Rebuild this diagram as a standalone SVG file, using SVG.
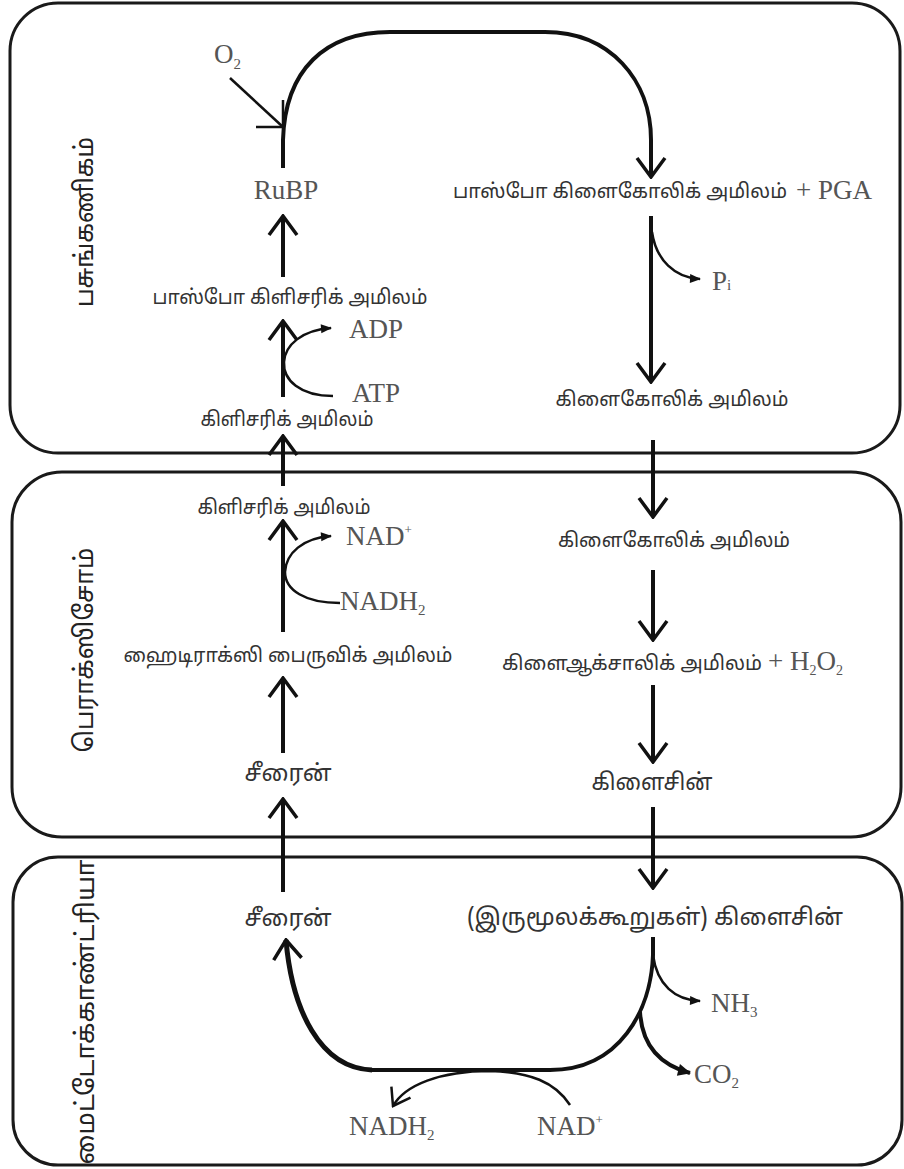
<svg xmlns="http://www.w3.org/2000/svg" width="904" height="1169" viewBox="0 0 904 1169">
  <style>
    .box { fill: none; stroke: #1a1a1a; stroke-width: 3; }
    .flow { fill: none; stroke: #111; stroke-width: 4; }
    .thick { fill: none; stroke: #111; stroke-width: 5; }
    .side { fill: none; stroke: #111; stroke-width: 2.5; }
    .ta { font-family: "Noto Sans Tamil", "Latha", "Noto Sans", sans-serif; font-size: 20px; fill: #333; }
    .ta-lg { font-family: "Noto Sans Tamil", "Latha", "Noto Sans", sans-serif; font-size: 23px; fill: #333; }
    .chem { font-family: "Liberation Serif", "Times New Roman", serif; font-size: 27px; fill: #555; }
    .comp { font-family: "Noto Sans Tamil", "Latha", "Noto Sans", sans-serif; font-size: 26px; fill: #222; }
  </style>
  <defs>
    <marker id="vee" viewBox="-22 -16 24 32" refX="0" refY="0" markerWidth="24" markerHeight="32" markerUnits="userSpaceOnUse" orient="auto">
      <path d="M-19,-14 L0,0 L-19,14" fill="none" stroke="#111" stroke-width="3.5"/>
    </marker>
    <marker id="vee-sm" viewBox="-20 -14 22 28" refX="0" refY="0" markerWidth="22" markerHeight="28" markerUnits="userSpaceOnUse" orient="auto">
      <path d="M-16,-11 L0,0 L-16,11" fill="none" stroke="#111" stroke-width="2.5"/>
    </marker>
    <marker id="tri" viewBox="-11 -6 13 12" refX="0" refY="0" markerWidth="13" markerHeight="12" markerUnits="userSpaceOnUse" orient="auto">
      <path d="M-10,-4.5 L1,0 L-10,4.5 z" fill="#111"/>
    </marker>
    <marker id="tri-lg" viewBox="-13 -8 15 16" refX="0" refY="0" markerWidth="15" markerHeight="16" markerUnits="userSpaceOnUse" orient="auto">
      <path d="M-12,-6 L1,0 L-12,6 z" fill="#111"/>
    </marker>
  </defs>

  <!-- cell compartments -->
  <g id="chloroplast">
    <rect class="box" x="10" y="3" width="890" height="450" rx="48"/>
    <text class="comp" transform="translate(86,222) rotate(-90)" text-anchor="middle" dominant-baseline="central" textLength="170" lengthAdjust="spacingAndGlyphs">பசுங்கணிகம்</text>
  </g>
  <g id="peroxisome">
    <rect class="box" x="12" y="472" width="889" height="365" rx="50"/>
    <text class="comp" transform="translate(86,650) rotate(-90)" text-anchor="middle" dominant-baseline="central" textLength="205" lengthAdjust="spacingAndGlyphs">பெராக்ஸிசோம்</text>
  </g>
  <g id="mitochondria">
    <rect class="box" x="13" y="857" width="889" height="308" rx="45"/>
    <text class="comp" transform="translate(87,1012) rotate(-90)" text-anchor="middle" dominant-baseline="central" textLength="305" lengthAdjust="spacingAndGlyphs">மைட்டோக்காண்ட்ரியா</text>
  </g>

  <!-- reaction arrows -->
  <g id="connectors">
    <!-- RuBP oxygenation loop -->
    <path class="flow" d="M283,168 L283,140 C285,70 325,32 390,32 L545,32 C610,32 651,80 651,140 L651,177" marker-end="url(#vee)"/>
    <path class="side" d="M230,78 L283,127"/>
    <path class="side" d="M256,127 L283,127 L283,100" stroke-width="2.8"/>
    <!-- chloroplast left column -->
    <path class="flow" d="M283,277 L283,216" marker-end="url(#vee)"/>
    <path class="flow" d="M283,397 L283,321" marker-end="url(#vee)"/>
    <path class="side" d="M333,396 C300,396 283,380 284,362 C285,345 302,330 331,328" marker-end="url(#tri)"/>
    <path class="flow" d="M283,486 L283,436" marker-end="url(#vee)"/>
    <!-- peroxisome left column -->
    <path class="flow" d="M283,632 L283,521" marker-end="url(#vee)"/>
    <path class="side" d="M340,603 C305,603 285,590 285,572 C286,553 303,538 331,536" marker-end="url(#tri)"/>
    <path class="flow" d="M283,753 L283,678" marker-end="url(#vee)"/>
    <path class="flow" d="M283,892 L283,799" marker-end="url(#vee)"/>
    <!-- chloroplast right column -->
    <path class="flow" d="M651,216 L651,382" marker-end="url(#vee)"/>
    <path class="side" d="M652,232 C656,260 675,278 700,279" marker-end="url(#tri)"/>
    <path class="flow" d="M653,440 L653,517" marker-end="url(#vee)"/>
    <!-- peroxisome right column -->
    <path class="flow" d="M653,570 L653,640" marker-end="url(#vee)"/>
    <path class="flow" d="M653,685 L653,762" marker-end="url(#vee)"/>
    <path class="flow" d="M653,807 L653,888" marker-end="url(#vee)"/>
    <!-- mitochondrial glycine to serine -->
    <path class="flow" d="M653,937 L653,955 C651,1010 620,1070 550,1070 L370,1070" />
    <path class="thick" d="M372,1070 C320,1068 292,1010 286,940" marker-end="url(#vee)"/>
    <path class="side" d="M653,955 C657,985 675,1000 700,1001" marker-end="url(#tri)"/>
    <path class="flow" d="M640,1012 C642,1045 660,1065 690,1073" stroke-width="4.5" marker-end="url(#tri-lg)"/>
    <path class="side" d="M570,1105 C555,1082 530,1072 490,1071 C440,1071 405,1085 393,1106" marker-end="url(#vee-sm)"/>
  </g>

  <!-- metabolites -->
  <g id="o2"><text class="chem" x="214" y="63" font-size="26">O<tspan font-size="15" dy="6">2</tspan></text></g>
  <g id="rubp"><text class="chem" x="286" y="199" text-anchor="middle">RuBP</text></g>
  <g id="phosphoglycerate"><text class="ta" x="290" y="304" text-anchor="middle" textLength="275" lengthAdjust="spacingAndGlyphs">பாஸ்போ கிளிசரிக் அமிலம்</text></g>
  <g id="adp"><text class="chem" x="349" y="338">ADP</text></g>
  <g id="atp"><text class="chem" x="352" y="402">ATP</text></g>
  <g id="glycerate-c"><text class="ta" x="287" y="426" text-anchor="middle" textLength="173" lengthAdjust="spacingAndGlyphs">கிளிசரிக் அமிலம்</text></g>
  <g id="glycerate-p"><text class="ta" x="284" y="514" text-anchor="middle" textLength="173" lengthAdjust="spacingAndGlyphs">கிளிசரிக் அமிலம்</text></g>
  <g id="nad-p"><text class="chem" x="346" y="545">NAD<tspan font-size="13" dy="-11">+</tspan></text></g>
  <g id="nadh2-p"><text class="chem" x="340" y="610">NADH<tspan font-size="15" dy="5">2</tspan></text></g>
  <g id="hydroxypyruvate"><text class="ta" x="288" y="662" text-anchor="middle" textLength="329" lengthAdjust="spacingAndGlyphs">ஹைடிராக்ஸி பைருவிக் அமிலம்</text></g>
  <g id="serine-p"><text class="ta-lg" x="288" y="781" text-anchor="middle" textLength="87" lengthAdjust="spacingAndGlyphs">சீரைன்</text></g>
  <g id="serine-m"><text class="ta-lg" x="288" y="926" text-anchor="middle" textLength="87" lengthAdjust="spacingAndGlyphs">சீரைன்</text></g>
  <g id="phosphoglycolate">
    <text class="ta" x="453" y="198" textLength="334" lengthAdjust="spacingAndGlyphs">பாஸ்போ கிளைகோலிக் அமிலம்</text>
    <text class="chem" x="796" y="199">+ PGA</text>
  </g>
  <g id="pi"><text class="chem" x="712" y="290">P<tspan font-size="15" dy="0">i</tspan></text></g>
  <g id="glycolate-c"><text class="ta" x="672" y="406" text-anchor="middle" textLength="233" lengthAdjust="spacingAndGlyphs">கிளைகோலிக் அமிலம்</text></g>
  <g id="glycolate-p"><text class="ta" x="674" y="547" text-anchor="middle" textLength="232" lengthAdjust="spacingAndGlyphs">கிளைகோலிக் அமிலம்</text></g>
  <g id="glyoxylate">
    <text class="ta" x="502" y="670" textLength="260" lengthAdjust="spacingAndGlyphs">கிளைஆக்சாலிக் அமிலம்</text>
    <text class="chem" x="768" y="670" font-size="24">+ H<tspan font-size="14" dy="5">2</tspan><tspan dy="-5">O</tspan><tspan font-size="14" dy="5">2</tspan></text>
  </g>
  <g id="glycine-p"><text class="ta-lg" x="652" y="790" text-anchor="middle" textLength="121" lengthAdjust="spacingAndGlyphs">கிளைசின்</text></g>
  <g id="glycine-m"><text class="ta-lg" x="655" y="925" text-anchor="middle" textLength="376" lengthAdjust="spacingAndGlyphs">(இருமூலக்கூறுகள்) கிளைசின்</text></g>
  <g id="nh3"><text class="chem" x="711" y="1012">NH<tspan font-size="15" dy="5">3</tspan></text></g>
  <g id="co2"><text class="chem" x="694" y="1083">CO<tspan font-size="15" dy="5">2</tspan></text></g>
  <g id="nadh2-m"><text class="chem" x="349" y="1135">NADH<tspan font-size="15" dy="5">2</tspan></text></g>
  <g id="nad-m"><text class="chem" x="537" y="1135">NAD<tspan font-size="13" dy="-11">+</tspan></text></g>
</svg>
